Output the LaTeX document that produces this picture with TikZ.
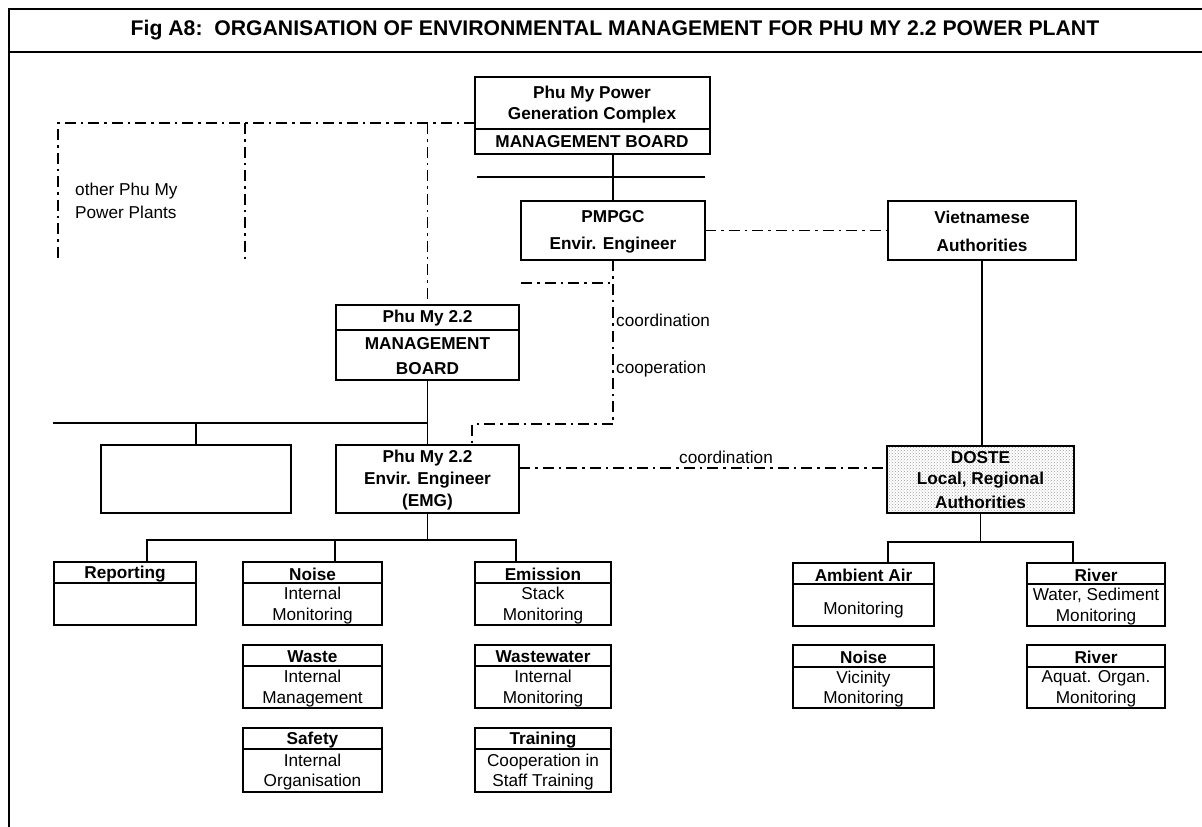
\documentclass[tikz,border=0pt]{standalone}
\usepackage{fontspec}
\setmainfont{Liberation Sans}
\usetikzlibrary{patterns}
\tikzset{
  bx/.style={draw, line width=1.6pt, inner sep=0pt, outer sep=0pt},
  sepl/.style={line width=1.4pt},
  ln/.style={line width=1.3pt},
  dd/.style={line width=1.3pt, dash pattern=on 11pt off 5pt on 2.5pt off 5pt},
  tx/.style={font=\fontsize{17.2}{20.5}\selectfont, align=center, inner sep=0pt},
  tb/.style={tx, font=\fontsize{17.2}{20.5}\selectfont\bfseries},
  ttl/.style={font=\fontsize{21.2}{24}\selectfont\bfseries, inner sep=0pt},
}
% \rbox[opts]{x1}{y1}{x2}{y2}{name}
\newcommand\rbox[6][]{\node[bx,#1,minimum width={(#4)-(#2)},minimum height={(#5)-(#3)}] (#6) at ({((#2)+(#4))/2},{((#3)+(#5))/2}) {};}
% \splitbox{name}{x1}{y1}{x2}{y2}{sep}{header}{body}
\newcommand\splitbox[8]{%
  \rbox{#2}{#3}{#4}{#5}{#1}
  \draw[sepl] (#1.west |- 0,#6) -- (#1.east |- 0,#6);
  \node[tb] (#1-h) at ({((#2)+(#4))/2},{((#3)+(#6))/2+1.5}) {#7};
  \node[tx] (#1-b) at ({((#2)+(#4))/2},{((#6)+(#5))/2+1.5}) {#8};
}
\begin{document}
\begin{tikzpicture}[x=1pt,y=-1pt]
\useasboundingbox (0,0) rectangle (1202,827);
% frame and title
\coordinate (ftl) at (9,9);
\coordinate (ftr) at (1202,9);
\coordinate (fbl) at (9,827);
\coordinate (tbl) at (9,52);
\coordinate (tbr) at (1202,52);
\draw[sepl] (ftr) -- (ftl) -- (fbl);
\draw[sepl] (tbl) -- (tbr);
\node[ttl] (title) at (615,30) {Fig A8:\ \ ORGANISATION OF ENVIRONMENTAL MANAGEMENT FOR PHU MY 2.2 POWER PLANT};

% top box
\rbox{475}{77}{710}{154}{top}
\draw[sepl] (top.west |- 0,129) -- (top.east |- 0,129);
\node[tb] (top1) at (592,94) {Phu My Power};
\node[tb] (top2) at (592,115) {Generation Complex};
\node[tb] (top3) at (592,142) {MANAGEMENT BOARD};

% PMPGC and Vietnamese authorities
\rbox{521}{201}{705}{260}{pmpgc}
\node[tb] (pm1) at (613,217) {PMPGC};
\node[tb] (pm2) at (613,245) {Envir. Engineer};
\rbox{888}{201}{1076}{260}{viet}
\node[tb] (vi1) at (982,217) {Vietnamese};
\node[tb] (vi2) at (982,245) {Authorities};

% Phu My 2.2 management board
\rbox{336}{305}{519}{380}{mb}
\draw[sepl] (mb.west |- 0,330) -- (mb.east |- 0,330);
\node[tb] (mb1) at (427.5,318) {Phu My 2.2};
\node[tb] (mb2) at (427.5,344) {MANAGEMENT};
\node[tb] (mb3) at (427.5,369) {BOARD};

% blank box and EMG
\rbox{101}{445}{291}{513}{blank}
\rbox{336}{445}{519}{513}{emg}
\node[tb] (em1) at (427.5,458) {Phu My 2.2};
\node[tb] (em2) at (427.5,480) {Envir. Engineer};
\node[tb] (em3) at (427.5,502) {(EMG)};

% DOSTE
\rbox[pattern=crosshatch dots, pattern color=gray!75]{887}{446}{1074}{513}{doste}
\node[tb] (do1) at (980.5,458) {DOSTE};
\node[tb] (do2) at (980.5,480) {Local, Regional};
\node[tb] (do3) at (980.5,502) {Authorities};

% other plants
\node[tx, anchor=west, align=left, font=\fontsize{17.2}{23}\selectfont] (other) at (75,201) {other Phu My\\Power Plants};

% lower boxes, EMG side
\splitbox{rep}{54}{562}{196}{625}{583}{Reporting}{}
\splitbox{noise}{243}{562}{382}{625}{583}{Noise}{Internal\\Monitoring}
\splitbox{emis}{475}{562}{611}{625}{583}{Emission}{Stack\\Monitoring}
\splitbox{waste}{243}{645}{382}{708}{666}{Waste}{Internal\\Management}
\splitbox{ww}{475}{645}{611}{708}{666}{Wastewater}{Internal\\Monitoring}
\splitbox{safe}{243}{728}{382}{792}{749}{Safety}{Internal\\Organisation}
\splitbox{train}{475}{728}{611}{792}{749}{Training}{Cooperation in\\Staff Training}

% lower boxes, DOSTE side
\splitbox{amb}{793}{563}{934}{626}{584}{Ambient Air}{\mbox{}\\Monitoring}
\splitbox{riv1}{1027}{563}{1165}{626}{584}{River}{Water, Sediment\\Monitoring}
\splitbox{noise2}{793}{645}{934}{708}{667}{Noise}{Vicinity\\Monitoring}
\splitbox{riv2}{1027}{645}{1165}{708}{667}{River}{Aquat. Organ.\\Monitoring}

% ---- connectors ----
% dash-dot link to other plants
\coordinate (dl) at (58,123);
\coordinate (dm) at (245,123);
\coordinate (dlb) at (58,260);
\coordinate (dmb) at (245,260);
\draw[dd] (top.west |- dl) -- (dl) -- (dlb);
\draw[dd] (dm) -- (dmb);
\draw[dd] (dl -| mb.north) -- (mb.north);

% complex board to PMPGC
\draw[ln] (top.south -| pmpgc.north) -- (pmpgc.north);
\coordinate (hl1) at (477,177);
\coordinate (hl2) at (705,177);
\draw[ln] (hl1) -- (hl2);

% PMPGC to Vietnamese authorities
\draw[dd] (pmpgc.east) -- (viet.west);

% PMPGC to EMG (coordination / cooperation)
\coordinate (cc) at (472,424);
\coordinate (stub) at (521,283);
\draw[dd] (pmpgc.south) -- (pmpgc.south |- cc) -- (cc) -- (cc |- emg.north);
\draw[dd] (stub) -- (stub -| pmpgc.south);
\node[tx, anchor=west] (lco1) at (616,320) {coordination};
\node[tx, anchor=west] (lco2) at (616,369) {cooperation};

% board to EMG and blank box
\coordinate (hb) at (53,423);
\draw[ln] (mb.south) -- (emg.north);
\draw[ln] (hb) -- (hb -| mb.south);
\draw[ln] (hb -| blank.north) -- (blank.north);

% EMG to DOSTE
\coordinate (ed) at (0,468);
\draw[dd] (emg.east |- ed) -- (doste.west |- ed);
\node[tx] (lco3) at (726,457) {coordination};

% Vietnamese to DOSTE
\draw[ln] (viet.south) -- (viet.south |- doste.north);

% EMG tree
\coordinate (t1) at (147,540);
\coordinate (t2) at (335,540);
\coordinate (t3) at (516,540);
\draw[ln] (emg.south) -- (emg.south |- t1);
\draw[ln] (rep.north -| t1) -- (t1) -- (t3) -- (emis.north -| t3);
\draw[ln] (t2) -- (noise.north -| t2);

% DOSTE tree
\coordinate (r1) at (888,542);
\coordinate (r2) at (1073,542);
\draw[ln] (doste.south) -- (doste.south |- r1);
\draw[ln] (amb.north -| r1) -- (r1) -- (r2) -- (riv1.north -| r2);
\end{tikzpicture}
\end{document}
